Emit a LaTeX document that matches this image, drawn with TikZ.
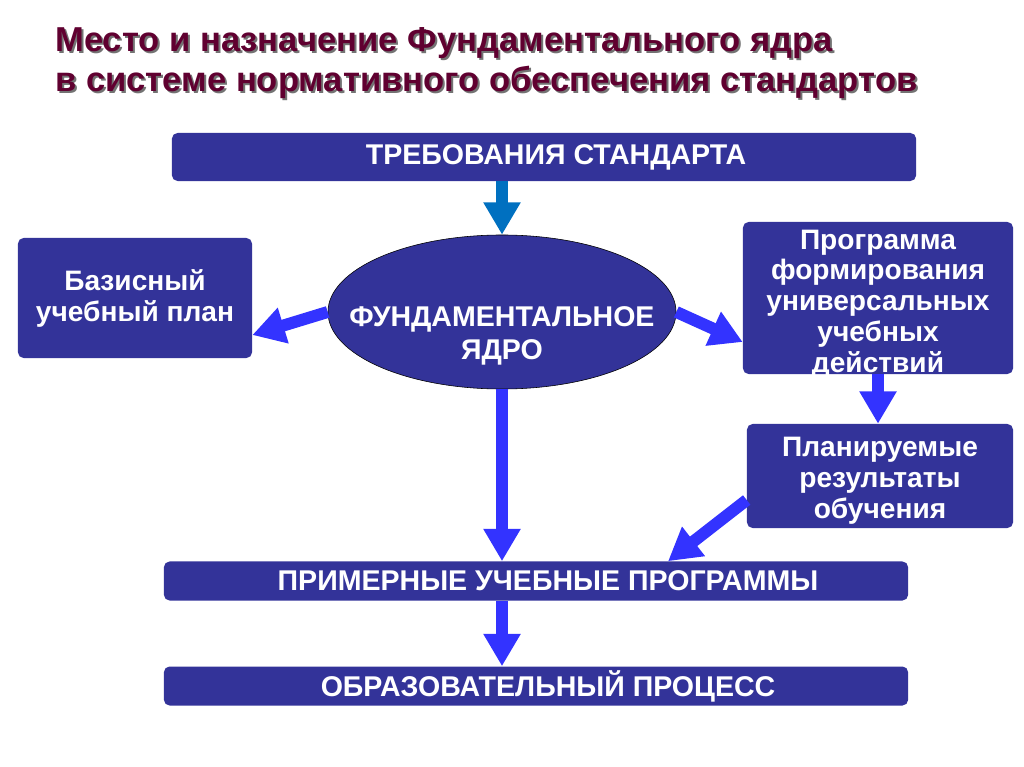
\documentclass[tikz,border=0pt]{standalone}
\usepackage{fontspec}
\setmainfont{Liberation Sans}
\usetikzlibrary{shapes.geometric,arrows.meta,calc}
\definecolor{boxblue}{HTML}{333399}
\definecolor{arrblue}{HTML}{3333FF}
\definecolor{topblue}{HTML}{0070C0}
\definecolor{titlered}{HTML}{600030}
\begin{document}
\begin{tikzpicture}
    [x=0.025cm,y=-0.025cm,
     Box/.style={rectangle,rounded corners=4pt,fill=boxblue,text=white,align=center,inner sep=0pt,
                 font=\fontsize{20}{22}\selectfont\bfseries},
     Bar/.style={Box,minimum width=18.6cm,font=\fontsize{20.3}{24}\selectfont\bfseries,
                 execute at begin node=\hspace*{0.6cm}},
     Core/.style={ellipse,fill=boxblue,draw=black,thin,minimum width=8.7cm,minimum height=3.85cm,inner sep=0pt},
     Arr/.style={arrblue,line width=8.5pt,-{Triangle[length=23pt,width=25pt]}},
     Title/.style={anchor=base west,inner sep=0pt,font=\fontsize{24.6}{28}\selectfont\bfseries}];
    \useasboundingbox (0,0) rectangle (1024,767);
    % title with shadow
    \node[Title,text=black!55] at (57,54) {Место и назначение Фундаментального ядра};
    \node[Title,text=titlered] (t1) at (55,52) {Место и назначение Фундаментального ядра};
    \node[Title,text=black!55] at (57,94) {в системе нормативного обеспечения стандартов};
    \node[Title,text=titlered] (t2) at (55,92) {в системе нормативного обеспечения стандартов};
    % boxes
    \node[Bar,minimum height=1.2cm] (req) at (544,157) {ТРЕБОВАНИЯ СТАНДАРТА};
    \node[Core] (core) at (502,312) {};
    \node[text=white,align=center,font=\fontsize{20.3}{24}\selectfont\bfseries] (coretext) at (502,336) {ФУНДАМЕНТАЛЬНОЕ\\ЯДРО};
    \node[Box,minimum width=5.85cm,minimum height=3cm] (basis) at (135,298) {Базисный\\учебный план};
    \node[Box,minimum width=6.75cm,minimum height=3.8cm] (prog) at (878,298) {};
    \node[Box,minimum width=6.65cm,minimum height=2.6cm] (plan) at (880,476) {};
    \node[Box,fill=none] (plantext) at (880,481) {Планируемые\\результаты\\обучения};
    \node[Bar,minimum height=0.975cm] (prim) at (536,581) {ПРИМЕРНЫЕ УЧЕБНЫЕ ПРОГРАММЫ};
    \node[Bar,minimum height=0.975cm] (proc) at (536,686) {ОБРАЗОВАТЕЛЬНЫЙ ПРОЦЕСС};
    % arrows
    \draw [Arr,topblue] (req.south -| core.north) to (core.north);
    \draw [Arr] (core.west) to ([yshift=-0.925cm]basis.east);
    \draw [Arr] (core.east) to ([yshift=-1.1cm]prog.west);
    \draw [Arr] (core.south) to (core.south |- prim.north);
    \draw [Arr] (prog.south) to (prog.south |- plan.north);
    \draw [Arr] ([yshift=-0.6cm]plan.west) to ([xshift=3.3cm]prim.north);
    \draw [Arr] (prim.south -| core.south) to (proc.north -| core.south);
    % text over the arrow
    \node[Box,fill=none] (progtext) at (878,304)
        {Программа\\формирования\\универсальных\\учебных\\действий};
\end{tikzpicture}
\end{document}
